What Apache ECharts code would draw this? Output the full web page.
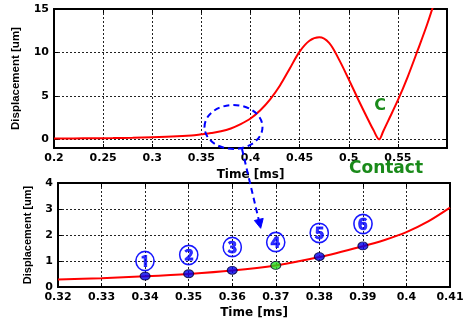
<!DOCTYPE html>
<html>
<head>
<meta charset="utf-8">
<script src="https://cdn.jsdelivr.net/npm/echarts@6/dist/echarts.min.js"></script>
<style>
html,body{margin:0;padding:0;background:#fff;}
#main{width:468px;height:320px;}
</style>
</head>
<body>
<div id="main"></div>
<script>
// ---- data ----
const topTime = [0.20,0.22,0.24,0.26,0.28,0.30,0.32,0.34,0.35,0.36,0.37,0.38,0.39,0.40,0.41,0.42,0.43,0.44,0.45,0.46,0.47,0.48,0.49,0.50,0.51,0.52,0.525,0.531,0.535,0.54,0.55,0.56,0.57,0.58,0.59];
const topDisp = [0.08,0.10,0.12,0.14,0.18,0.25,0.32,0.45,0.58,0.72,0.92,1.25,1.75,2.4,3.35,4.6,6.2,8.15,10.1,11.35,11.75,11.1,9.2,6.9,4.5,2.2,1.1,0.0,0.9,2.1,4.5,7.2,10.2,13.3,16.8];

const zoomTime = [0.32,0.33,0.34,0.35,0.36,0.37,0.38,0.39,0.395,0.40,0.405,0.41];
const zoomDisp = [0.29,0.34,0.41,0.50,0.63,0.83,1.15,1.57,1.81,2.11,2.52,3.05];

const pointTime = [0.34,0.35,0.36,0.37,0.38,0.39];
const pointDisp = [0.42,0.51,0.64,0.83,1.17,1.58];
const pointLabels = ['①','②','③','④','⑤','⑥'];
const labelDisp = [0.99,1.22,1.53,1.71,2.07,2.41];
const contactIndex = 3;

const topXTicks = {min:0.2, max:0.6, interval:0.05};
const topYTicks = {min:-1, max:15};
const zoomXTicks = {min:0.32, max:0.41, interval:0.01};
const zoomYTicks = {min:0, max:4, interval:1};

// ---- chart ----
const chart = echarts.init(document.getElementById('main'), null, {renderer:'canvas'});
const tickFont = {fontFamily:'DejaVu Sans', fontWeight:'bold', fontSize:11, color:'#000'};
const splitStyle = {show:true, lineStyle:{color:'#222', width:1, type:[2,2]}};
const fmtX = v => String(+(+v).toFixed(2));

function xAx(grid, t, pos, labels){
  return {type:'value', gridIndex:grid, position:pos, min:t.min, max:t.max, interval:t.interval,
    axisLine:{show:true, onZero:false, lineStyle:{color:'#000', width:2}},
    axisTick:{show:true, inside:true, length:4, lineStyle:{color:'#000', width:1}},
    axisLabel:{show:labels, margin:5, showMaxLabel: grid===1, formatter:fmtX, ...tickFont},
    splitLine: labels ? splitStyle : {show:false},
    name: labels ? 'Time [ms]' : '', nameLocation:'middle', nameGap: grid===0?21:20,
    nameTextStyle:{fontFamily:'DejaVu Sans', fontWeight:'bold', fontSize:12, color:'#000'}};
}
function yAx(grid, t, pos, labels){
  const o = {type:'value', gridIndex:grid, position:pos, min:t.min, max:t.max,
    axisLine:{show:true, onZero:false, lineStyle:{color:'#000', width:2}},
    axisTick:{show:true, inside:true, length:4, lineStyle:{color:'#000', width:1}},
    axisLabel:{show:labels, margin:5, formatter: v => (v < -0.5 ? '' : String(Math.round(v))), ...tickFont},
    splitLine: labels ? splitStyle : {show:false},
    name: labels ? 'Displacement [um]' : '', nameLocation:'middle', nameGap: grid===0?32:25,
    nameTextStyle:{fontFamily:'Liberation Sans', fontWeight:'bold', fontSize: grid===0?11.5:11, color:'#000'}};
  if (t.interval) o.interval = t.interval; else o.splitNumber = 3;
  return o;
}

const option = {
  backgroundColor:'#fff',
  animation:false,
  grid:[
    {left:54, top:9, width:393, height:139, show:true, borderColor:'#000', borderWidth:1.5, backgroundColor:'#fff'},
    {left:58, top:183, width:392, height:105, show:true, borderColor:'#000', borderWidth:1.5, backgroundColor:'#fff'}
  ],
  xAxis:[ xAx(0, topXTicks, 'bottom', true), xAx(0, topXTicks, 'top', false),
          xAx(1, zoomXTicks, 'bottom', true), xAx(1, zoomXTicks, 'top', false) ],
  yAxis:[ yAx(0, topYTicks, 'left', true), yAx(0, topYTicks, 'right', false),
          yAx(1, zoomYTicks, 'left', true), yAx(1, zoomYTicks, 'right', false) ],
  series:[
    {type:'line', xAxisIndex:0, yAxisIndex:0, data: topTime.map((t,i)=>[t, topDisp[i]]),
     smooth:0.35, showSymbol:false, clip:true, lineStyle:{color:'#ff0000', width:2}},
    {type:'line', xAxisIndex:2, yAxisIndex:2, data: zoomTime.map((t,i)=>[t, zoomDisp[i]]),
     smooth:0.3, showSymbol:false, clip:true, lineStyle:{color:'#ff0000', width:2}},
    {type:'scatter', xAxisIndex:2, yAxisIndex:2, symbol:'circle', symbolSize:[10,8], z:5,
     data: pointTime.map((t,i)=>({value:[t, pointDisp[i]],
        itemStyle:{color: i===contactIndex ? '#22dd22' : '#0000ee', borderColor:'#000033', borderWidth:1}}))},
    {type:'scatter', xAxisIndex:2, yAxisIndex:2, symbolSize:0, z:6, silent:true,
     data: pointTime.map((t,i)=>({value:[t, labelDisp[i]], name:pointLabels[i]})),
     label:{show:true, position:'inside', formatter: p => p.name,
       fontFamily:'Noto Sans CJK SC', fontWeight:'bold', fontSize:20, color:'#0000ff',
       textBorderColor:'#0000ff', textBorderWidth:0.8}}
  ],
  graphic:[
    {type:'ellipse', shape:{cx:233.5, cy:127, rx:29, ry:22}, z:100,
     style:{fill:null, stroke:'#0000ff', lineWidth:2, lineDash:[6,4]}},
    {type:'line', shape:{x1:242, y1:149, x2:258.8, y2:220}, z:100,
     style:{stroke:'#0000ff', lineWidth:2, lineDash:[6,4]}},
    {type:'polygon', shape:{points:[[260.7,228.3],[263.2,218.4],[254.4,220.5]]}, z:100,
     style:{fill:'#0000ff', stroke:'#0000ff', lineWidth:1}},
    {type:'text', x:380, y:106, z:100,
     style:{text:'C', fill:'#1a8a1a', font:'bold 16px "DejaVu Sans"', align:'center', verticalAlign:'middle'}},
    {type:'text', x:386, y:169, z:100,
     style:{text:'Contact', fill:'#1a8a1a', font:'bold 17px "DejaVu Sans"', align:'center', verticalAlign:'middle'}}
  ]
};
chart.setOption(option);
</script>
</body>
</html>
